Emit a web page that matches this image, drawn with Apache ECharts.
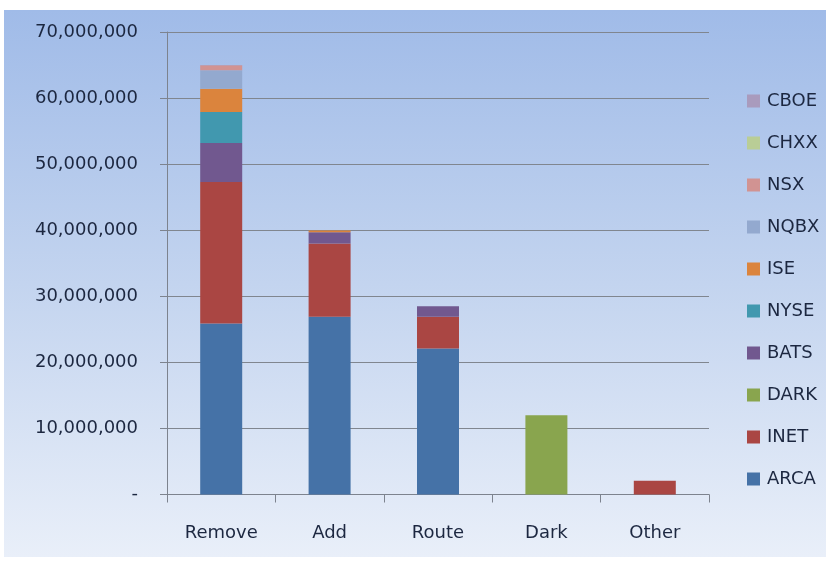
<!DOCTYPE html>
<html><head><meta charset="utf-8">
<script src="https://cdn.jsdelivr.net/npm/echarts@6/dist/echarts.min.js"></script>
<style>html,body{margin:0;padding:0;background:#fff}#c{width:832px;height:562px}</style>
</head><body><div id="c"></div>
<script>
const categories = ['Remove','Add','Route','Dark','Other'];
const ARCA = [25.9e6, 26.9e6, 22.1e6, 0, 0];
const INET = [21.4e6, 11.1e6, 4.8e6, 0, 2.1e6];
const DARK = [0, 0, 0, 12.0e6, 0];
const BATS = [5.9e6, 1.7e6, 1.6e6, 0, 0];
const NYSE = [4.7e6, 0, 0, 0, 0];
const ISE  = [3.5e6, 0.25e6, 0, 0, 0];
const NQBX = [2.8e6, 0, 0, 0, 0];
const NSX  = [0.75e6, 0, 0, 0, 0];
const CHXX = [0, 0, 0, 0, 0];
const CBOE = [0.05e6, 0, 0, 0, 0];
const yTicks = [0, 10e6, 20e6, 30e6, 40e6, 50e6, 60e6, 70e6];

const seriesDefs = [
  ['ARCA', ARCA, '#4572A7'],
  ['INET', INET, '#AA4643'],
  ['DARK', DARK, '#89A54E'],
  ['BATS', BATS, '#71588F'],
  ['NYSE', NYSE, '#4198AF'],
  ['ISE', ISE, '#DB843D'],
  ['NQBX', NQBX, '#93A9CF'],
  ['NSX', NSX, '#D19392'],
  ['CHXX', CHXX, '#B9CD96'],
  ['CBOE', CBOE, '#A99BBD']
];
const font = 'DejaVu Sans';
const txt = '#1c2740';
const chart = echarts.init(document.getElementById('c'), null, {renderer:'canvas'});
chart.setOption({
  backgroundColor: '#ffffff',
  animation: false,
  graphic: [{
    type: 'rect', z: -10, silent: true,
    shape: {x: 4, y: 10, width: 822, height: 547},
    style: {fill: new echarts.graphic.LinearGradient(0,0,0,1,[
      {offset:0, color:'#a0bbe8'},
      {offset:0.5, color:'#c3d4ef'},
      {offset:1, color:'#e9eff9'}
    ])}
  }],
  grid: {left: 167, right: 123, top: 32, bottom: 67.5, containLabel: false},
  legend: {
    orient: 'vertical', left: 747, top: 92, padding: 0,
    itemWidth: 13, itemHeight: 13, itemGap: 24,
    icon: 'rect',
    data: seriesDefs.map(s => s[0]).reverse(),
    textStyle: {fontFamily: font, fontSize: 18, color: txt, lineHeight: 18, padding: [0,0,0,2]}
  },
  xAxis: {
    type: 'category', data: categories,
    axisLine: {lineStyle: {color: '#7d838e', width: 1}},
    axisTick: {show: true, length: 8, lineStyle: {color: '#7d838e'}},
    axisLabel: {fontFamily: font, fontSize: 18, color: txt, margin: 30}
  },
  yAxis: {
    type: 'value', min: 0, max: 70e6, interval: 10e6,
    axisLine: {show: true, lineStyle: {color: '#7d838e', width: 1}},
    axisTick: {show: true, length: 7, lineStyle: {color: '#7d838e'}},
    splitLine: {lineStyle: {color: '#80868f', width: 1}},
    axisLabel: {fontFamily: font, fontSize: 18, color: txt, margin: 29,
      formatter: v => v === 0 ? '-' : v.toLocaleString('en-US')}
  },
  series: seriesDefs.map(([name, data, color]) => ({
    name, type: 'bar', stack: 'all', data, barWidth: 42,
    itemStyle: {color}
  }))
});
</script></body></html>
